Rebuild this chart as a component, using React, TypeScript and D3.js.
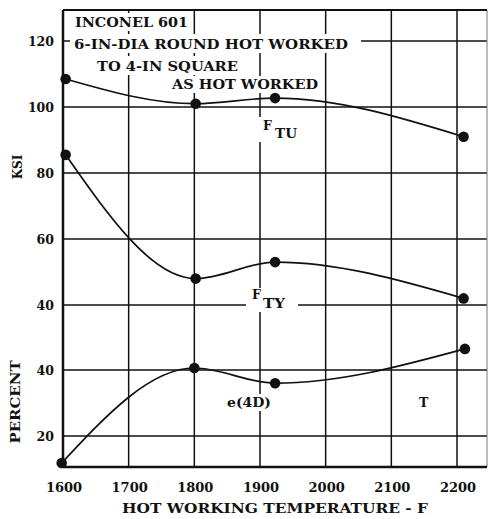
import React from 'react';
import * as d3 from 'd3';

const tempTicks = [1600, 1700, 1800, 1900, 2000, 2100, 2200];
const ksiTicks = [40, 60, 80, 100, 120];
const pctTicks = [20, 40];
const tempsTensile = [1604, 1802, 1923, 2210];
const ftu = [108.5, 101, 102.7, 91];
const fty = [85.5, 48, 53, 42];
const tempsElong = [1598, 1800, 1923, 2212];
const elong = [11.8, 40.6, 36, 46.4];

const FONT = '"DejaVu Serif", "Liberation Serif", serif';

export default function App() {
  const W = 489, H = 519;
  const x = d3.scaleLinear().domain([1600, 2200]).range([63, 457]);
  const yK = d3.scaleLinear().domain([40, 120]).range([305, 41]);
  const yP = d3.scaleLinear().domain([20, 40]).range([436, 370]);
  const left = 63, right = 487, top = 10, bottom = 467;

  const line = (xs: number[], ys: number[], ys2: (v: number) => number) =>
    d3.line<number>().x((_, i) => x(xs[i])).y((v) => ys2(v)).curve(d3.curveMonotoneX)(ys) || '';

  const series = [
    { xs: tempsTensile, ys: ftu, sc: yK },
    { xs: tempsTensile, ys: fty, sc: yK },
    { xs: tempsElong, ys: elong, sc: yP },
  ];

  const boxes = [
    { x: 71, y: 13, w: 122, h: 18 },
    { x: 70, y: 34, w: 291, h: 19 },
    { x: 94, y: 56, w: 148, h: 19 },
    { x: 168, y: 76, w: 154, h: 17 },
    { x: 258, y: 117, w: 44, h: 25 },
    { x: 246, y: 288, w: 52, h: 24 },
    { x: 222, y: 394, w: 52, h: 17 },
  ];

  const T = (props: any) => (
    <text fontFamily={FONT} fontWeight="bold" fill="#111" lengthAdjust="spacingAndGlyphs" {...props} />
  );

  return (
    <svg width={W} height={H} style={{ position: 'absolute', left: 0, top: 0, background: '#fff' }}>
      <rect x={0} y={0} width={W} height={H} fill="#fff" />
      {/* grid */}
      {tempTicks.slice(1).map((t) => (
        <line key={'v' + t} x1={x(t)} x2={x(t)} y1={top} y2={bottom} stroke="#111" strokeWidth={1.5} />
      ))}
      {ksiTicks.map((k) => (
        <line key={'k' + k} x1={left} x2={right} y1={yK(k)} y2={yK(k)} stroke="#111" strokeWidth={1.6} />
      ))}
      {pctTicks.map((p) => (
        <line key={'p' + p} x1={left} x2={right} y1={yP(p)} y2={yP(p)} stroke="#111" strokeWidth={1.6} />
      ))}
      <line x1={right} x2={right} y1={top} y2={bottom} stroke="#777" strokeWidth={1} />
      {/* text background boxes */}
      {boxes.map((b, i) => (
        <rect key={'b' + i} x={b.x} y={b.y} width={b.w} height={b.h} fill="#fff" />
      ))}
      {/* frame */}
      <line x1={left} x2={right} y1={top} y2={top} stroke="#111" strokeWidth={2} />
      <line x1={left} x2={left} y1={top} y2={bottom} stroke="#111" strokeWidth={2.5} />
      <line x1={left} x2={right} y1={bottom} y2={bottom} stroke="#111" strokeWidth={2.3} />
      {/* curves */}
      {series.map((s, i) => (
        <g key={'s' + i}>
          <path d={line(s.xs, s.ys, s.sc)} fill="none" stroke="#111" strokeWidth={1.7} />
          {s.ys.map((v, j) => (
            <circle key={j} cx={x(s.xs[j])} cy={s.sc(v)} r={5.3} fill="#111" />
          ))}
        </g>
      ))}
      {/* annotations */}
      <T x={75} y={27} fontSize={12.5} textLength={113}>INCONEL 601</T>
      <T x={74} y={49} fontSize={12.5} textLength={274}>6-IN-DIA ROUND HOT WORKED</T>
      <T x={97} y={71} fontSize={12.5} textLength={141}>TO 4-IN SQUARE</T>
      <T x={172} y={89} fontSize={12.5} textLength={146}>AS HOT WORKED</T>
      <T x={263} y={130} fontSize={12.5}>F</T>
      <T x={275} y={138} fontSize={12.5} textLength={22}>TU</T>
      <T x={252} y={299} fontSize={12.5}>F</T>
      <T x={263} y={308} fontSize={12.5} textLength={22}>TY</T>
      <T x={227} y={407} fontSize={12.5} textLength={44}>e(4D)</T>
      <T x={419} y={407} fontSize={12.5}>T</T>
      {/* y ticks */}
      {ksiTicks.map((k) => (
        <T key={'kt' + k} x={54} y={yK(k) + 5} fontSize={12.5} textAnchor="end">{k}</T>
      ))}
      {pctTicks.map((p) => (
        <T key={'pt' + p} x={54} y={yP(p) + 5} fontSize={12.5} textAnchor="end">{p}</T>
      ))}
      {/* x ticks */}
      {tempTicks.map((t) => (
        <T key={'xt' + t} x={x(t) + 1} y={492} fontSize={13} textAnchor="middle">{t}</T>
      ))}
      <T x={122} y={513} fontSize={13} textLength={306}>HOT WORKING TEMPERATURE - F</T>
      <T x={0} y={0} fontSize={12} textAnchor="middle" transform="translate(22,167) rotate(-90)">KSI</T>
      <T x={0} y={0} fontSize={12.5} textAnchor="middle" textLength={83} transform="translate(20,402) rotate(-90)">PERCENT</T>
    </svg>
  );
}
